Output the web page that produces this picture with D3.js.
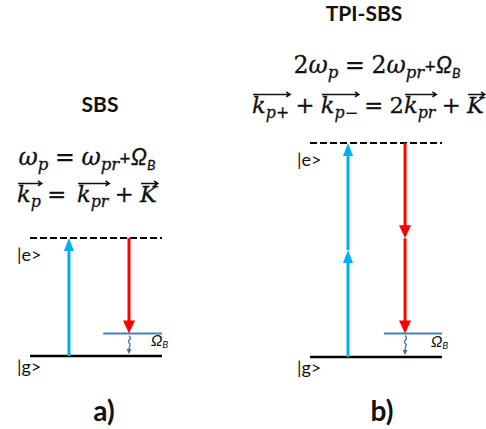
<!DOCTYPE html>
<html>
<head>
<meta charset="utf-8">
<script src="https://cdn.jsdelivr.net/npm/d3@7"></script>
<style>
  body { margin: 0; background: #fff; }
</style>
</head>
<body>
<svg id="fig" width="486" height="429"></svg>
<script>
// --- data ---------------------------------------------------------------
var panelIds = ["a)", "b)"];
var panelTitles = ["SBS", "TPI-SBS"];
// energies in units of one pump photon (hbar*omega_p)
var virtualLevel = [1, 2];        // |e> (dashed)
var phononLevel = [0.19, 0.22];   // Omega_B level above |g>
// photon steps [from, to]
var pumpSteps = [[[0, 1]], [[0, 1], [1, 2]]];
var stokesSteps = [[[1, 0.19]], [[2, 1.11], [1.11, 0.22]]];
var levelLabels = ["|e>", "|g>"];

// equation tokens: [text, kind]; "vs"/"ve" open/close a vector arrow
var eqSBS1 = [["ω","i"],["p","s"],["=","op"],["ω","i"],["pr","s"],["+","p"],["Ω","O"],["B","B"]];
var eqSBS2 = [["","vs"],["k","i"],["p","s"],["","ve"],["=","op"],["","gap"],["","vs"],["k","i"],["pr","s"],["","ve"],
              ["+","op"],["","vs"],["K","i"],["","ve"]];
var eqTPI1 = [["2","r"],["ω","i"],["p","s"],["=","op"],["2","r"],["ω","i"],["pr","s"],["+","p"],["Ω","O"],["B","B"]];
var eqTPI2 = [["","vs"],["k","i"],["p+","s"],["","ve"],["+","op"],["","vs"],["k","i"],["p−","s"],["","ve"],
              ["=","op"],["2","r"],["","vs"],["k","i"],["pr","s"],["","ve"],["+","op"],["","vs"],["K","i"],["","ve"]];

// --- layout -------------------------------------------------------------
var svg = d3.select("#fig");
var serif = "'DejaVu Serif', 'Liberation Serif', serif";
var sans = "Lato, 'Open Sans', sans-serif";

var panelX = [[30, 162], [310, 442]];
var panelY = [[356, 238], [357, 143]];
var pumpX = [0.295, 0.288], stokesX = [0.75, 0.72], phononStart = [0.555, 0.56];

var styles = {
  i: {family: serif, style: "italic", scale: 1},
  r: {family: serif, style: "normal", scale: 1},
  op: {family: serif, style: "normal", scale: 1, pad: 0.28},
  s: {family: serif, style: "italic", scale: 0.7, dy: 0.22},
  p: {family: sans, style: "normal", scale: 0.8, pad: 0.02},
  O: {family: sans, style: "italic", scale: 0.95},
  B: {family: sans, style: "italic", scale: 0.6, dy: 0.2}
};

function layoutEq(g, tokens, size) {
  g.selectAll("*").remove();
  var x = 0, vs = 0, vecs = [];
  tokens.forEach(function(tk) {
    var k = tk[1];
    if (k === "vs") { vs = x; return; }
    if (k === "ve") { vecs.push([vs, x]); return; }
    if (k === "gap") { x += size * 0.2; return; }
    var st = styles[k];
    x += (st.pad || 0) * size;
    var el = g.append("text")
      .attr("x", x).attr("y", (st.dy || 0) * size)
      .attr("font-family", st.family).attr("font-style", st.style)
      .attr("font-size", st.scale * size).attr("fill", "#111")
      .attr("stroke", "#111").attr("stroke-width", 0.3)
      .text(tk[0]);
    x += el.node().getComputedTextLength() + (st.pad || 0) * size;
  });
  vecs.forEach(function(v) {
    var yy = -0.82 * size, x1 = v[1] + 1;
    g.append("path")
      .attr("d", "M" + (v[0] + 1) + "," + yy + "H" + x1 + "M" + (x1 - 4) + "," + (yy - 2.5) + "L" + x1 + "," + yy + "L" + (x1 - 4) + "," + (yy + 2.5))
      .attr("fill", "none").attr("stroke", "#111").attr("stroke-width", 1.4);
  });
  return x;
}

function drawEq(tokens, cx, base, width) {
  var g = svg.append("g");
  var w = layoutEq(g, tokens, 22);
  var size = 22 * width / w;
  w = layoutEq(g, tokens, size);
  g.attr("transform", "translate(" + (cx - w / 2) + "," + base + ")");
}

drawEq(eqSBS1, 87, 165, 137);
drawEq(eqSBS2, 87, 202, 140);
drawEq(eqTPI1, 377, 73, 167);
drawEq(eqTPI2, 368, 113, 232);

// titles
svg.selectAll(".title").data(panelTitles).enter().append("text")
  .attr("x", function(d, i) { return [100, 364][i]; })
  .attr("y", function(d, i) { return [112, 21][i]; })
  .attr("text-anchor", "middle").attr("font-family", sans).attr("font-weight", "bold")
  .attr("font-size", 21).attr("fill", "#111").text(function(d) { return d; });

svg.selectAll(".pid").data(panelIds).enter().append("text")
  .attr("x", function(d, i) { return [104, 382][i]; })
  .attr("y", 421)
  .attr("text-anchor", "middle").attr("font-family", sans).attr("font-weight", "bold")
  .attr("font-size", 28).attr("fill", "#111").text(function(d) { return d; });

function arrow(g, cx, y0, y1, color, hw, hl) {
  var dir = y1 < y0 ? 1 : -1; // 1 = upward
  g.append("line").attr("x1", cx).attr("x2", cx)
    .attr("y1", y0).attr("y2", y1 + dir * hl * 0.6)
    .attr("stroke", color).attr("stroke-width", 3);
  g.append("path")
    .attr("d", "M" + cx + "," + y1 + "L" + (cx - hw / 2) + "," + (y1 + dir * hl) + "L" + (cx + hw / 2) + "," + (y1 + dir * hl) + "Z")
    .attr("fill", color);
}

panelIds.forEach(function(id, i) {
  var g = svg.append("g");
  var x = d3.scaleLinear().domain([0, 1]).range(panelX[i]);
  var y = d3.scaleLinear().domain([0, virtualLevel[i]]).range(panelY[i]);

  // virtual level (dashed)
  g.append("line").attr("x1", x(0)).attr("x2", x(1))
    .attr("y1", y(virtualLevel[i])).attr("y2", y(virtualLevel[i]))
    .attr("stroke", "#000").attr("stroke-width", 2).attr("stroke-dasharray", "7,3");
  // phonon level
  g.append("line").attr("x1", x(phononStart[i])).attr("x2", x(1))
    .attr("y1", y(phononLevel[i])).attr("y2", y(phononLevel[i]))
    .attr("stroke", "#4a7ebb").attr("stroke-width", 2);
  // ground
  g.append("line").attr("x1", x(0)).attr("x2", x(1))
    .attr("y1", y(0)).attr("y2", y(0))
    .attr("stroke", "#000").attr("stroke-width", 2.5);

  pumpSteps[i].forEach(function(s) {
    arrow(g, x(pumpX[i]), y(s[0]), y(s[1]), "#00b0f0", 10, 13);
  });
  stokesSteps[i].forEach(function(s) {
    arrow(g, x(stokesX[i]), y(s[0]), y(s[1]), "#ff0000", 12, 13);
  });

  // phonon decay squiggle
  var sx = x(stokesX[i]), top = y(phononLevel[i]) + 2, bot = y(0) - 2;
  var wig = [0, 2.5, -2, 2, 0, 0];
  var pts = wig.map(function(o, j) { return [sx + o, top + (bot - 4 - top) * j / (wig.length - 1)]; });
  g.append("path").attr("d", d3.line().curve(d3.curveBasis)(pts))
    .attr("fill", "none").attr("stroke", "#41719c").attr("stroke-width", 1.3);
  g.append("path")
    .attr("d", "M" + sx + "," + bot + "L" + (sx - 2.5) + "," + (bot - 5) + "L" + (sx + 2.5) + "," + (bot - 5) + "Z")
    .attr("fill", "#41719c");

  // Omega_B label
  var ob = g.append("text").attr("x", x(1) - 11).attr("y", y(0) - 10)
    .attr("font-family", sans).attr("font-style", "italic").attr("font-size", 16).attr("fill", "#111");
  ob.append("tspan").text("Ω");
  ob.append("tspan").attr("font-size", 10).attr("dy", 2).text("B");

  // level labels
  g.append("text").attr("x", x(0) - 13).attr("y", y(virtualLevel[i]) + 23)
    .attr("font-family", sans).attr("font-size", 18).attr("fill", "#111").text(levelLabels[0]);
  g.append("text").attr("x", x(0) - 13).attr("y", y(0) + 17)
    .attr("font-family", sans).attr("font-size", 18).attr("fill", "#111").text(levelLabels[1]);
});
</script>
</body>
</html>
